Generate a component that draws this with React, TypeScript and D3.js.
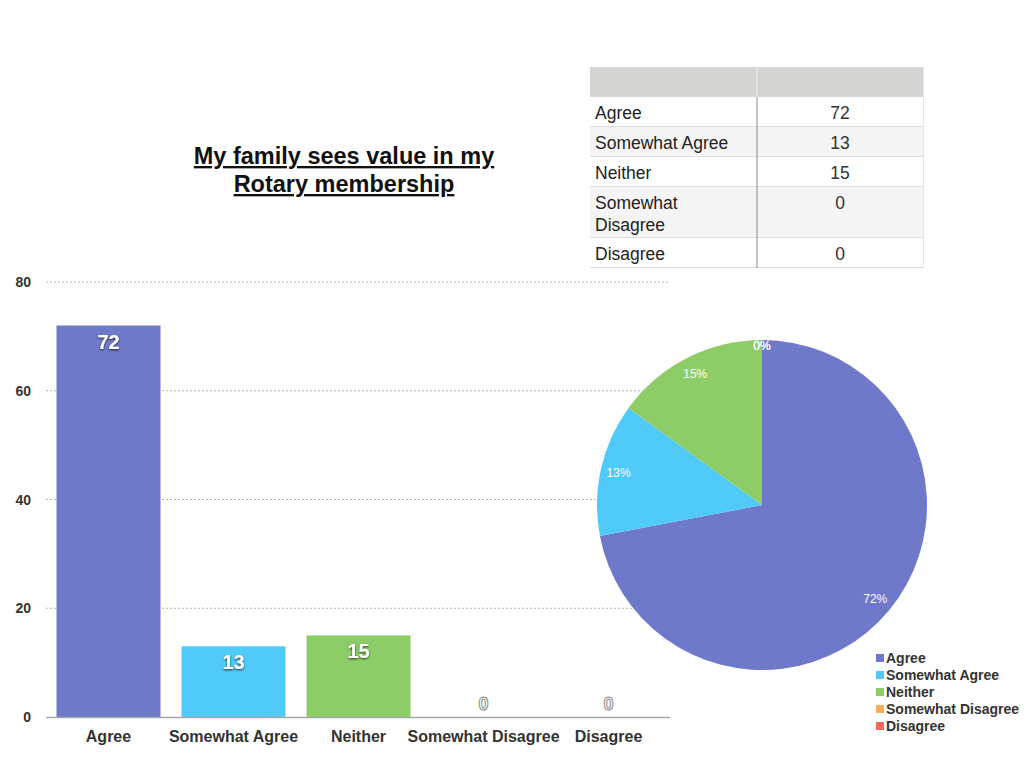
import React from "react";
import * as d3 from "d3";

const categories = ["Agree", "Somewhat Agree", "Neither", "Somewhat Disagree", "Disagree"];
const values = [72, 13, 15, 0, 0];
const colors = ["#6e79ca", "#4fcaf9", "#8ccd68", "#f8ae5c", "#f26b5b"];
const yTicks = [0, 20, 40, 60, 80];
const titleLines = ["My family sees value in my", "Rotary membership"];

const FONT = "'Liberation Sans', Arial, Helvetica, sans-serif";

export default function App() {
  const x = d3
    .scaleBand<string>()
    .domain(categories)
    .range([46, 671])
    .paddingInner(0.168)
    .paddingOuter(0.084);
  const y = d3.scaleLinear().domain([0, 80]).range([717, 282]);

  const total = d3.sum(values);
  const pie = d3
    .pie<number>()
    .sort(null)
    .startAngle(0)
    .endAngle(2 * Math.PI)(values);
  const cx = 762,
    cy = 505,
    R = 165;
  const arc = d3.arc<d3.PieArcDatum<number>>().innerRadius(0).outerRadius(R);
  const labelArc = d3.arc<d3.PieArcDatum<number>>().innerRadius(147).outerRadius(147);
  const zeroArc = d3.arc<d3.PieArcDatum<number>>().innerRadius(159).outerRadius(159);

  // table layout
  const tX = 590,
    tW = 334,
    tDiv = 757,
    headerTop = 67,
    headerH = 30;
  const rowHeights = categories.map((c) => (c.length > 15 ? 51 : 30));
  let acc = headerTop + headerH;
  const rowTops = rowHeights.map((h) => {
    const t = acc;
    acc += h;
    return t;
  });

  return (
    <div style={{ position: "absolute", left: 0, top: 0 }}>
      <svg width={1024} height={768} style={{ display: "block", fontFamily: FONT }}>
        <defs>
          <filter id="sh" x="-50%" y="-50%" width="200%" height="200%">
            <feDropShadow dx="0" dy="1" stdDeviation="0.8" floodColor="#000" floodOpacity="0.75" />
          </filter>
        </defs>
        <rect width={1024} height={768} fill="#fff" />

        {/* Title */}
        {titleLines.map((t, i) => (
          <text
            key={t}
            x={344}
            y={164 + i * 28}
            textAnchor="middle"
            fontSize={23.5}
            fontWeight="bold"
            fill="#111"
            textDecoration="underline"
          >
            {t}
          </text>
        ))}

        {/* Table */}
        <rect x={tX} y={headerTop} width={tW} height={headerH} fill="#d5d5d3" />
        <line x1={tDiv} x2={tDiv} y1={headerTop} y2={headerTop + headerH} stroke="#f0f0f0" strokeWidth={1} />
        {categories.map((c, i) => {
          const top = rowTops[i];
          const h = rowHeights[i];
          const lines = c.length > 15 ? c.split(" ") : [c];
          return (
            <g key={c}>
              <rect x={tX} y={top} width={tW} height={h} fill={i % 2 === 1 ? "#f5f5f5" : "#ffffff"} />
              <line x1={tX} x2={tX + tW} y1={top + h - 0.5} y2={top + h - 0.5} stroke="#dedede" />
              {lines.map((l, j) => (
                <text key={l} x={595} y={top + 22 + j * 22} fontSize={17.5} fill="#222">
                  {l}
                </text>
              ))}
              <text x={840} y={top + 22} fontSize={17.5} fill="#333" textAnchor="middle">
                {values[i]}
              </text>
            </g>
          );
        })}
        <line x1={tDiv} x2={tDiv} y1={headerTop + headerH} y2={acc} stroke="#8a8a8a" strokeWidth={1} />
        <line x1={tX + tW - 0.5} x2={tX + tW - 0.5} y1={headerTop} y2={acc} stroke="#e8e8e8" />

        {/* Gridlines */}
        {yTicks.map((t) => (
          <g key={t}>
            {t > 0 ? (
              <line
                x1={46}
                x2={668}
                y1={y(t)}
                y2={y(t)}
                stroke="#b5b5b5"
                strokeWidth={1}
                strokeDasharray="2,2"
              />
            ) : null}
            <text x={31} y={y(t) + 5} textAnchor="end" fontSize={14} fontWeight="bold" fill="#333">
              {t}
            </text>
          </g>
        ))}

        {/* Bars */}
        {categories.map((c, i) => (
          <rect
            key={c}
            x={x(c)}
            y={y(values[i])}
            width={x.bandwidth()}
            height={y(0) - y(values[i])}
            fill={colors[i]}
          />
        ))}
        <line x1={46} x2={670} y1={717.5} y2={717.5} stroke="#a8a8a8" strokeWidth={1.5} />

        {/* Bar value labels */}
        {categories.map((c, i) => {
          const cxb = (x(c) as number) + x.bandwidth() / 2;
          if (values[i] === 0) {
            return (
              <text
                key={c}
                x={cxb}
                y={y(0) - 7}
                textAnchor="middle"
                fontSize={18}
                fontWeight="bold"
                fill="#fff"
                stroke="#888"
                strokeWidth={1}
              >
                {values[i]}
              </text>
            );
          }
          return (
            <text
              key={c}
              x={cxb}
              y={y(values[i]) + 23}
              textAnchor="middle"
              fontSize={20}
              fontWeight="bold"
              fill="#fff"
              filter="url(#sh)"
            >
              {values[i]}
            </text>
          );
        })}

        {/* X labels */}
        {categories.map((c) => (
          <text
            key={c}
            x={(x(c) as number) + x.bandwidth() / 2}
            y={742}
            textAnchor="middle"
            fontSize={16}
            fontWeight="bold"
            fill="#333"
          >
            {c}
          </text>
        ))}

        {/* Pie */}
        <g transform={`translate(${cx},${cy})`}>
          {pie.map((d, i) => (
            <path key={i} d={arc(d) || ""} fill={colors[i]} stroke="none" />
          ))}
          {pie.map((d, i) => {
            const [lx, ly] = (d.data === 0 ? zeroArc : labelArc).centroid(d);
            return (
              <text key={"l" + i} x={lx} y={ly + 4} textAnchor="middle" fontSize={12} fill="#fff">
                {Math.round((d.data / total) * 100) + "%"}
              </text>
            );
          })}
        </g>

        {/* Legend */}
        {categories.map((c, i) => (
          <g key={c} transform={`translate(876, ${658 + i * 17})`}>
            <rect x={0} y={-4} width={8} height={8} fill={colors[i]} />
            <text x={10} y={5} fontSize={14} fontWeight="bold" fill="#333">
              {c}
            </text>
          </g>
        ))}
      </svg>
    </div>
  );
}
